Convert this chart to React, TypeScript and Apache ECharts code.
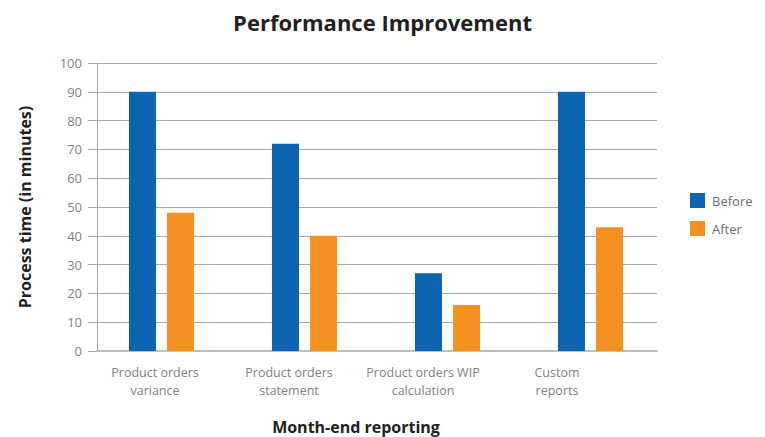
import React, { useEffect, useRef } from "react";
import * as echarts from "echarts";

const categories = [
  "Product orders\nvariance",
  "Product orders\nstatement",
  "Product orders WIP\ncalculation",
  "Custom\nreports",
];
const beforeValues = [90, 72, 27, 90];
const afterValues = [48, 40, 16, 43];
const yTicks = { min: 0, max: 100, interval: 10 };

const FONT = "'Open Sans', sans-serif";

export default function App() {
  const ref = useRef<HTMLDivElement>(null);
  useEffect(() => {
    if (!ref.current) return;
    const chart = echarts.init(ref.current, undefined, { renderer: "svg" });
    chart.setOption({
      animation: false,
      backgroundColor: "#ffffff",
      textStyle: { fontFamily: FONT },
      title: {
        text: "Performance Improvement",
        left: "center",
        top: 6,
        textStyle: { fontFamily: FONT, fontSize: 22, fontWeight: "bold", color: "#231f20" },
      },
      legend: {
        orient: "vertical",
        left: 690,
        top: 193,
        padding: 0,
        itemWidth: 15,
        itemHeight: 15,
        itemGap: 13,
        icon: "rect",
        textStyle: { fontFamily: FONT, fontSize: 13, color: "#6d6e71", padding: [0, 0, 0, 2] },
        data: ["Before", "After"],
      },
      grid: [
        { left: 97, top: 63, width: 560, height: 288, outerBoundsMode: "none", containLabel: false },
        { left: 90, top: 63, width: 572, height: 288, outerBoundsMode: "none", containLabel: false },
        { left: 88, top: 63, width: 536, height: 288, outerBoundsMode: "none", containLabel: false },
      ],
      xAxis: [
        {
          type: "category",
          gridIndex: 0,
          data: categories,
          axisLine: { lineStyle: { color: "#bcbec0", width: 2 } },
          axisTick: { show: false },
          axisLabel: { show: false },
          splitLine: { show: false },
        },
        {
          type: "category",
          gridIndex: 1,
          data: categories,
          show: false,
        },
        {
          type: "category",
          gridIndex: 2,
          position: "bottom",
          data: categories,
          axisLine: { show: false, onZero: false },
          axisTick: { show: false },
          axisLabel: {
            margin: 12,
            fontFamily: FONT,
            fontSize: 12.5,
            lineHeight: 18.5,
            color: "#808285",
            interval: 0,
          },
          name: "Month-end reporting",
          nameLocation: "middle",
          nameGap: 68,
          nameTextStyle: { fontFamily: FONT, fontSize: 16, fontWeight: "bold", color: "#231f20" },
        },
      ],
      yAxis: [
        {
          type: "value",
          gridIndex: 0,
          min: yTicks.min,
          max: yTicks.max,
          interval: yTicks.interval,
          axisLine: { show: true, lineStyle: { color: "#a7a9ac", width: 1 } },
          axisTick: { show: true, length: 9, lineStyle: { color: "#a7a9ac" } },
          axisLabel: { margin: 15, fontFamily: FONT, fontSize: 13, color: "#808285" },
          splitLine: { show: true, lineStyle: { color: "#a7a9ac", width: 1 } },
          name: "Process time (in minutes)",
          nameLocation: "middle",
          nameGap: 64,
          nameTextStyle: { fontFamily: FONT, fontSize: 16, fontWeight: "bold", color: "#231f20" },
        },
        { type: "value", gridIndex: 1, min: yTicks.min, max: yTicks.max, show: false },
        { type: "value", gridIndex: 2, min: yTicks.min, max: yTicks.max, show: false },
      ],
      series: [
        {
          name: "Before",
          type: "bar",
          xAxisIndex: 1,
          yAxisIndex: 1,
          data: beforeValues,
          barWidth: 27,
          barGap: "41%",
          itemStyle: { color: "#0b64b0" },
        },
        {
          name: "After",
          type: "bar",
          xAxisIndex: 1,
          yAxisIndex: 1,
          data: afterValues,
          barWidth: 27,
          barGap: "41%",
          itemStyle: { color: "#f59121" },
        },
      ],
    });
    return () => chart.dispose();
  }, []);
  return (
    <div
      ref={ref}
      style={{ position: "fixed", left: 0, top: 0, width: 765, height: 437 }}
    />
  );
}
